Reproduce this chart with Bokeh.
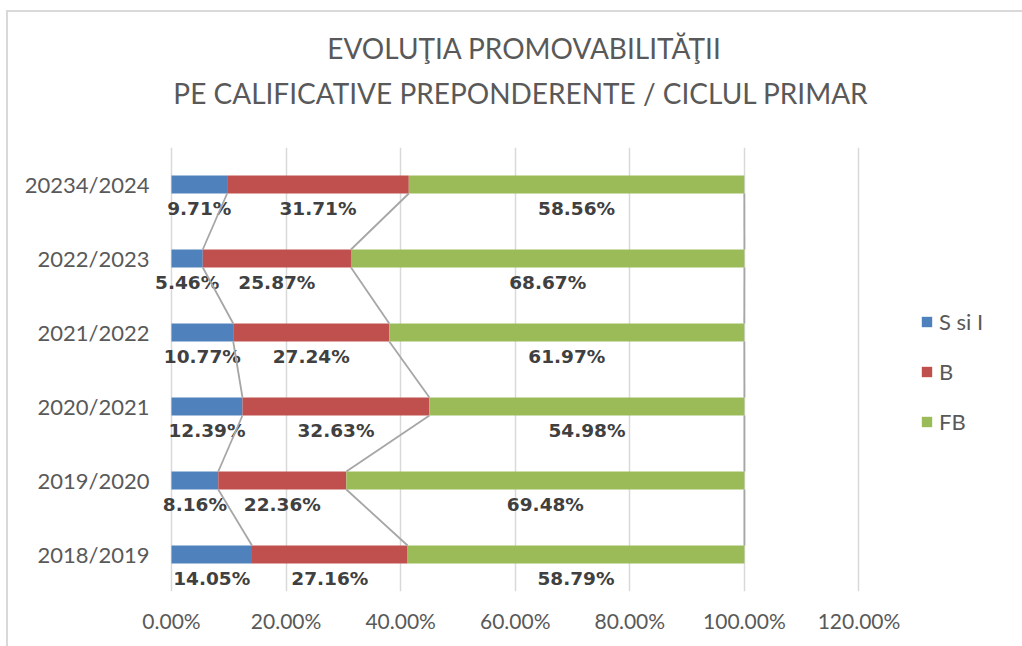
import numpy as np
from bokeh.plotting import figure
from bokeh.models import (ColumnDataSource, FixedTicker, PrintfTickFormatter, Title,
                          Legend, LegendItem, Range1d)
from bokeh.embed import file_html
from bokeh.resources import INLINE
from bokeh.core.properties import value

# ---- data ----
years = ["2018/2019", "2019/2020", "2020/2021", "2021/2022", "2022/2023", "20234/2024"]
s_si_i = [14.05, 8.16, 12.39, 10.77, 5.46, 9.71]
b_vals = [27.16, 22.36, 32.63, 27.24, 25.87, 31.71]
fb_vals = [58.79, 69.48, 54.98, 61.97, 68.67, 58.56]
series_names = ["S si I", "B", "FB"]
colors = ["#4F81BD", "#C0504D", "#9BBB59"]
x_ticks = [0, 20, 40, 60, 80, 100, 120]
title_lines = ["EVOLUŢIA PROMOVABILITĂŢII",
               "PE CALIFICATIVE PREPONDERENTE  / CICLUL PRIMAR"]

series = [s_si_i, b_vals, fb_vals]
ypos = list(range(len(years)))
bar_h = 0.243

p = figure(frame_width=746, frame_height=444,
           x_range=Range1d(-3.49, 126.72), y_range=Range1d(-0.5, len(years) - 0.5),
           output_backend="svg", toolbar_location=None, title_location=None,
           min_border_left=143, min_border_right=125,
           min_border_top=135, min_border_bottom=55)
p.outline_line_color = None
p.styles = {"border-left": "2px solid #D9D9D9", "border-top": "2px solid #D9D9D9",
            "margin-left": "6px", "margin-top": "10px"}

# grid
p.xgrid.ticker = FixedTicker(ticks=x_ticks)
p.xgrid.grid_line_color = "#D9D9D9"
p.xgrid.grid_line_width = 1.5
p.ygrid.visible = False

# bars
left = np.zeros(len(years))
renderers = []
cums = []
for vals, col in zip(series, colors):
    v = np.array(vals)
    right = left + v
    src = ColumnDataSource(dict(y=ypos, left=left.tolist(), right=right.tolist()))
    r = p.hbar(y="y", left="left", right="right", height=bar_h, source=src,
               fill_color=col, line_color=None)
    renderers.append(r)
    cums.append(right.copy())
    lsrc = ColumnDataSource(dict(x=((left + right) / 2).tolist(), y=ypos,
                                 t=[f"{x:.2f}%" for x in vals]))
    p.text(x="x", y="y", text="t", source=lsrc, y_offset=24,
           text_align="center", text_baseline="middle",
           text_font=value("DejaVu Sans"), text_font_style="bold",
           text_font_size="18.5px", text_color="#404040")
    left = right

# series lines
x0s, y0s, x1s, y1s = [], [], [], []
for cum in cums:
    for i in range(len(years) - 1):
        x0s.append(cum[i]); y0s.append(i + bar_h / 2)
        x1s.append(cum[i + 1]); y1s.append(i + 1 - bar_h / 2)
p.segment(x0=x0s, y0=y0s, x1=x1s, y1=y1s, line_color="#A6A6A6", line_width=1.8)

# axes
p.xaxis.ticker = FixedTicker(ticks=x_ticks)
p.xaxis.formatter = PrintfTickFormatter(format="%.2f%%")
p.yaxis.ticker = FixedTicker(ticks=ypos)
p.yaxis.major_label_overrides = {i: y for i, y in enumerate(years)}
for ax in (p.xaxis, p.yaxis):
    ax.axis_line_color = None
    ax.major_tick_line_color = None
    ax.minor_tick_line_color = None
    ax.major_label_text_font = "Lato"
    ax.major_label_text_color = "#595959"
p.xaxis.major_label_text_font_size = "21px"
p.yaxis.major_label_text_font_size = "22px"
p.xaxis.major_label_standoff = 10
p.yaxis.major_label_standoff = -4

# legend
legend = Legend(items=[LegendItem(label=n, renderers=[r]) for n, r in zip(series_names, renderers)],
                location=(23, 156), orientation="vertical",
                glyph_width=13, glyph_height=13, label_height=13, spacing=23,
                label_standoff=6, padding=0, margin=0,
                border_line_color=None, background_fill_alpha=0,
                label_text_font="Lato", label_text_font_size="22px",
                label_text_color="#595959")
p.add_layout(legend, "right")

# title (added closest-to-frame first)
p.add_layout(Title(text=title_lines[1], align="center", text_font="Lato",
                   text_font_size="28px", text_color="#595959",
                   text_font_style="normal", standoff=76), "above")
p.add_layout(Title(text=title_lines[0], align="center", text_font="Lato",
                   text_font_size="28px", text_color="#595959",
                   text_font_style="normal", standoff=-58), "above")

open("out.html", "w").write(file_html(p, INLINE))
